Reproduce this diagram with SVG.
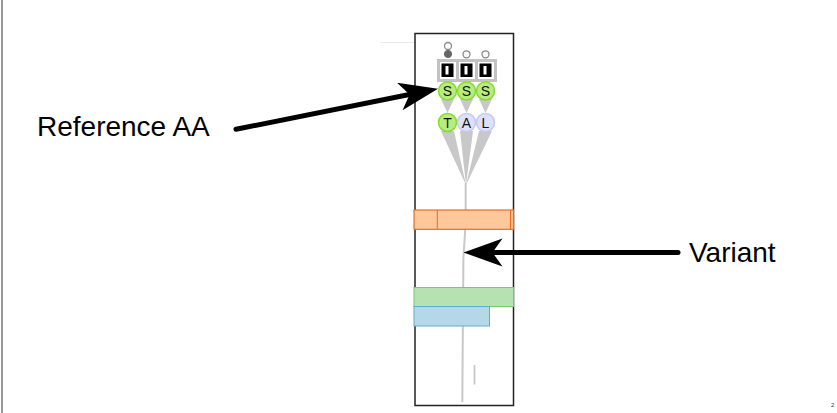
<svg xmlns="http://www.w3.org/2000/svg" width="837" height="413" viewBox="0 0 837 413">
<style>
.lbl{font-family:"Liberation Sans",Arial,Helvetica,sans-serif;font-size:28px;fill:#000}
.aa{font-family:"Liberation Sans",Arial,sans-serif;font-size:14px;fill:#111;text-anchor:middle}
.green{fill:#b8ec80;stroke:#86dc2e;stroke-width:1.5}
.lav{fill:#dfe1fb;stroke:#c6caf4;stroke-width:1.5}
.cell{fill:#fff;stroke:#c2c2c2;stroke-width:3}
.blk{fill:#000}
.bar{fill:#fff}
.tri{fill:#c8c8c8}
.arrow{stroke:#000;stroke-width:5;fill:none;stroke-linecap:round}
</style>
<defs>
<marker id="head" markerUnits="userSpaceOnUse" markerWidth="42" markerHeight="30" refX="25" refY="14" orient="auto">
<path d="M0,0 L39,14 L0,28 L10,14 Z" fill="#000"/>
</marker>
</defs>
<rect width="837" height="413" fill="#fff"/>
<line x1="2" y1="0" x2="2" y2="413" stroke="#333" stroke-width="1"/>
<line x1="380" y1="42.5" x2="415" y2="42.5" stroke="#eaeaea" stroke-width="1"/>
<text x="831" y="407" font-family="Liberation Sans,Arial,sans-serif" font-size="6" fill="#333">2</text>

<g id="panel">
<rect x="415" y="33.5" width="98.5" height="372" fill="#fff" stroke="#222" stroke-width="1.5"/>
</g>

<g id="track-line">
<polyline points="465.7,183 465.7,222 463.4,258 462.3,402" fill="none" stroke="#c8c8c8" stroke-width="2"/>
<line x1="474.5" y1="365" x2="474.5" y2="384.5" stroke="#c8c8c8" stroke-width="1.8"/>
</g>

<g id="wedges">
<polygon class="tri" points="441,131 454,131 466,185"/>
<polygon class="tri" points="460,131 473,131 466,185"/>
<polygon class="tri" points="479,131 492,131 466,185"/>
<polygon class="tri" points="441,99 454,99 447.5,113"/>
<polygon class="tri" points="460,99 473,99 466.5,113"/>
<polygon class="tri" points="479,99 492,99 485.5,113"/>
</g>

<g id="markers-top">
<circle cx="448" cy="46" r="3.5" fill="#fff" stroke="#888" stroke-width="1.3"/>
<circle cx="448" cy="54" r="3.6" fill="#666" stroke="#666" stroke-width="1"/>
<circle cx="466.5" cy="54.3" r="3.5" fill="#fff" stroke="#888" stroke-width="1.3"/>
<circle cx="485.5" cy="54.3" r="3.5" fill="#fff" stroke="#888" stroke-width="1.3"/>
</g>

<g id="codons">
<rect class="cell" x="438.5" y="60.5" width="19" height="20"/>
<rect class="cell" x="457.5" y="60.5" width="19" height="20"/>
<rect class="cell" x="476.5" y="60.5" width="19" height="20"/>
<rect class="blk" x="441.5" y="63.5" width="12" height="13.5"/>
<rect class="bar" x="445.5" y="66" width="3" height="8.5"/>
<rect class="blk" x="460.5" y="63.5" width="12" height="13.5"/>
<rect class="bar" x="464.5" y="66" width="3" height="8.5"/>
<rect class="blk" x="479.5" y="63.5" width="12" height="13.5"/>
<rect class="bar" x="483.5" y="66" width="3" height="8.5"/>
</g>

<g id="ref-aa">
<circle class="green" cx="447.5" cy="91" r="9"/>
<circle class="green" cx="466.5" cy="91" r="9"/>
<circle class="green" cx="485.5" cy="91" r="9"/>
<text class="aa" x="447.5" y="96">S</text>
<text class="aa" x="466.5" y="96">S</text>
<text class="aa" x="485.5" y="96">S</text>
</g>

<g id="alt-aa">
<circle class="green" cx="447.5" cy="122.5" r="9"/>
<circle class="lav" cx="466.5" cy="122.5" r="9"/>
<circle class="lav" cx="485.5" cy="122.5" r="9"/>
<text class="aa" x="447.5" y="127.5">T</text>
<text class="aa" x="466.5" y="127.5">A</text>
<text class="aa" x="485.5" y="127.5">L</text>
</g>

<g id="orange-band">
<rect x="414" y="210" width="99.5" height="19.3" fill="#fec89a" stroke="#f06a1e" stroke-width="1.2"/>
<line x1="437.3" y1="210" x2="437.3" y2="229.3" stroke="#f06a1e" stroke-width="1"/>
<line x1="510.5" y1="210" x2="510.5" y2="229.3" stroke="#f06a1e" stroke-width="1"/>
</g>

<g id="green-band">
<rect x="414" y="287.5" width="99.5" height="19" fill="#b6e1b1" stroke="#7cc47a" stroke-width="1"/>
</g>
<g id="blue-band">
<rect x="414" y="306.5" width="75.5" height="19.5" fill="#b5d8e9" stroke="#68a8d3" stroke-width="1"/>
</g>

<g id="label-ref">
<text class="lbl" x="37" y="136">Reference AA</text>
</g>
<g id="label-variant">
<text class="lbl" x="689" y="262">Variant</text>
</g>

<g id="connectors">
<line class="arrow" x1="236" y1="129.3" x2="424.3" y2="91.5" marker-end="url(#head)"/>
<line class="arrow" x1="678" y1="252.5" x2="477.5" y2="252.5" marker-end="url(#head)"/>
</g>
</svg>
